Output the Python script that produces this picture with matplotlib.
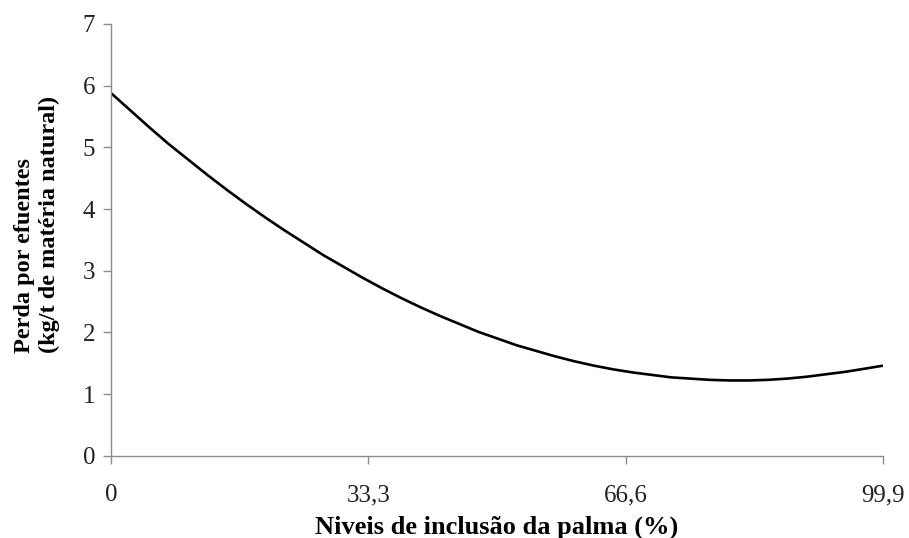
import matplotlib
matplotlib.use("Agg")
import matplotlib.pyplot as plt

# valores
niveis = [0, 2.5, 5, 7.5, 10, 12.5, 15, 17.5, 20, 22.5, 25, 27.5, 30, 32.5, 35,
          37.5, 40, 42.5, 45, 47.5, 50, 52.5, 55, 57.5, 60, 62.5, 65, 67.5, 70,
          72.5, 75, 77.5, 80, 82.5, 85, 87.5, 90, 92.5, 95, 97.5, 99.9]
perda = [5.88, 5.60, 5.32, 5.05, 4.80, 4.55, 4.31, 4.08, 3.86, 3.65, 3.45,
         3.25, 3.07, 2.89, 2.72, 2.56, 2.41, 2.27, 2.14, 2.01, 1.90, 1.79,
         1.70, 1.61, 1.53, 1.46, 1.40, 1.35, 1.31, 1.27, 1.25, 1.23, 1.22,
         1.22, 1.23, 1.25, 1.28, 1.32, 1.36, 1.41, 1.46]

x_ticks = [0, 33.3, 66.6, 99.9]
x_tick_labels = ["0", "33,3", "66,6", "99,9"]
y_ticks = [0, 1, 2, 3, 4, 5, 6, 7]

plt.rcParams["font.family"] = ["Liberation Serif", "DejaVu Serif"]

W, H = 909, 538
fig = plt.figure(figsize=(W / 100, H / 100), dpi=100)
ax = fig.add_axes([111 / W, 1 - 455.7 / H, (883 - 111) / W, (455.7 - 24) / H])

ax.plot(niveis, perda, color="black", linewidth=1.9, solid_capstyle="butt")

ax.set_xlim(0, 99.9)
ax.set_ylim(0, 7)
ax.set_xticks(x_ticks)
ax.set_xticklabels(x_tick_labels)
ax.set_yticks(y_ticks)

for side in ["top", "right"]:
    ax.spines[side].set_visible(False)
for side in ["left", "bottom"]:
    ax.spines[side].set_color("#8c8c8c")
    ax.spines[side].set_linewidth(1.0)

ax.tick_params(axis="both", direction="out", length=5.5, width=1.0,
               color="#8c8c8c", labelsize=18, labelcolor="#222222")
ax.tick_params(axis="x", pad=15)
ax.tick_params(axis="y", pad=6)

fig.text(497 / W, 1 - 527 / H, "Niveis de inclusão da palma (%)",
         ha="center", va="center", fontsize=19, fontweight="bold")
fig.text(37 / W, 1 - 224 / H, "Perda por efuentes\n(kg/t de matéria natural)",
         ha="center", va="center", rotation=90, multialignment="left",
         fontsize=17.5, fontweight="bold", linespacing=1.2)

fig.savefig("out.png", dpi=100)
